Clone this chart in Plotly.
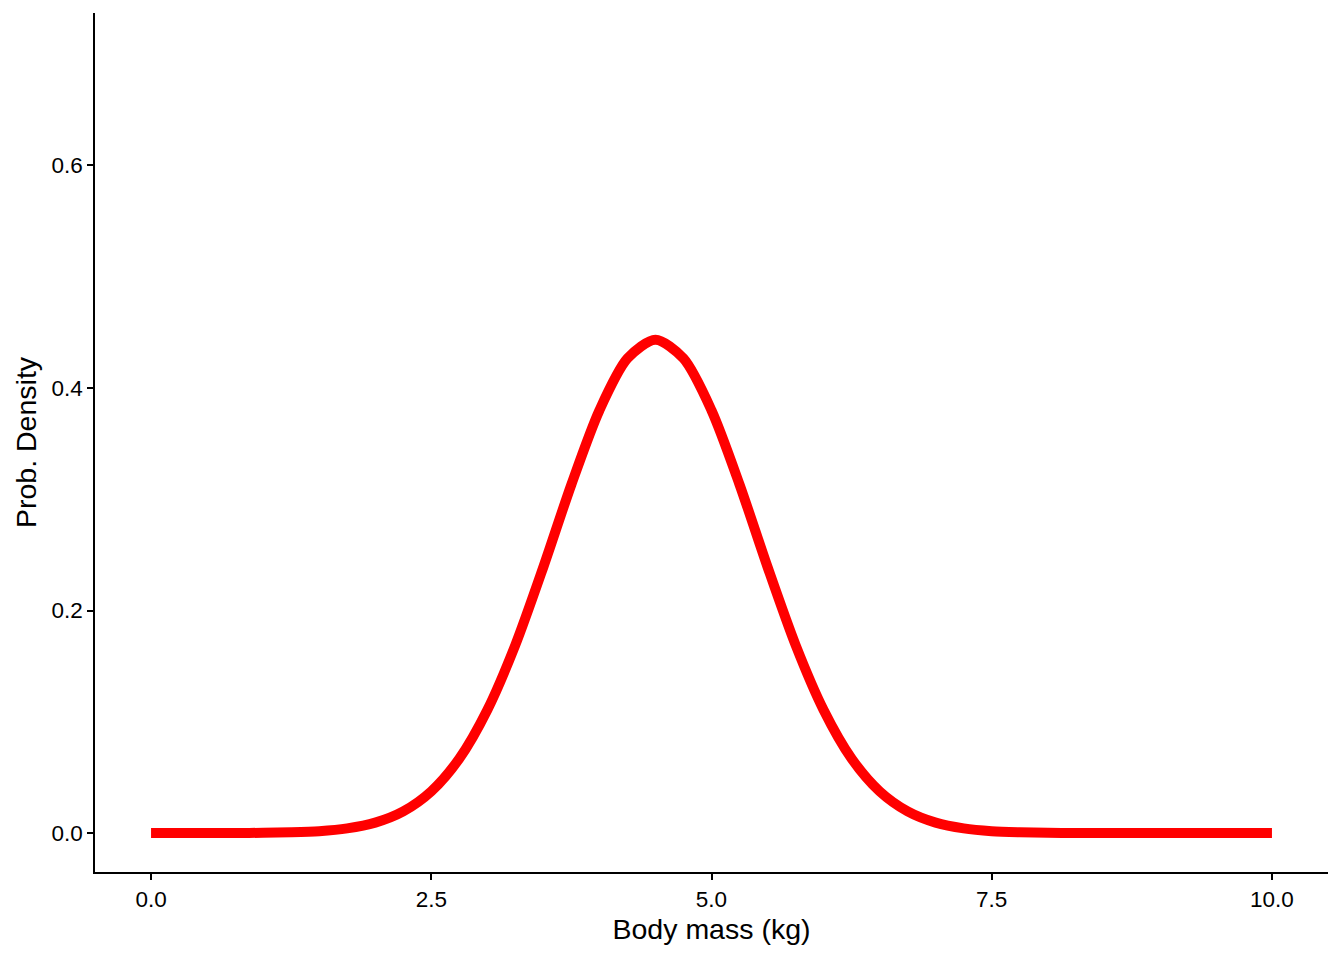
import plotly.graph_objects as go

# Density curve (body mass in kg vs probability density)
body_mass = [0.0, 0.25, 0.5, 0.75, 1.0, 1.25, 1.5, 1.75, 2.0, 2.25,
             2.5, 2.75, 3.0, 3.25, 3.5, 3.75, 4.0, 4.25, 4.5, 4.75,
             5.0, 5.25, 5.5, 5.75, 6.0, 6.25, 6.5, 6.75, 7.0, 7.25,
             7.5, 7.75, 8.0, 8.25, 8.5, 8.75, 9.0, 9.25, 9.5, 9.75, 10.0]
density = [0.0, 0.0, 0.0, 0.0001, 0.0002, 0.0007, 0.0017, 0.0042, 0.0094, 0.0195,
           0.0375, 0.0669, 0.1106, 0.1690, 0.2391, 0.3133, 0.3799, 0.4265, 0.4433, 0.4265,
           0.3799, 0.3133, 0.2391, 0.1690, 0.1106, 0.0669, 0.0375, 0.0195, 0.0094, 0.0042,
           0.0017, 0.0007, 0.0002, 0.0001, 0.0, 0.0, 0.0, 0.0, 0.0, 0.0, 0.0]

x_ticks = [0.0, 2.5, 5.0, 7.5, 10.0]
x_ticklabels = ["0.0", "2.5", "5.0", "7.5", "10.0"]
y_ticks = [0.0, 0.2, 0.4, 0.6]
y_ticklabels = ["0.0", "0.2", "0.4", "0.6"]

fig = go.Figure()
fig.add_trace(go.Scatter(
    x=body_mass, y=density,
    mode="lines",
    line=dict(color="#FF0000", width=10, shape="spline", smoothing=0.8),
    hoverinfo="skip"
))

axis_common = dict(
    showgrid=False, zeroline=False,
    showline=True, linecolor="black", linewidth=1.5,
    ticks="outside", ticklen=6, tickwidth=1.5, tickcolor="black",
    tickfont=dict(family="Liberation Sans, Arial", size=22.5, color="black"),
)

# page body has an 8px margin, so the figure is shrunk by that amount
fig.update_layout(
    width=1336, height=952,
    showlegend=False,
    plot_bgcolor="white", paper_bgcolor="white",
    margin=dict(l=87, r=16, t=5, b=88),
    font=dict(family="Liberation Sans, Arial", color="black"),
    xaxis=dict(
        range=[-0.5, 10.5],
        tickvals=x_ticks, ticktext=x_ticklabels,
        title=dict(text="Body mass (kg)", font=dict(size=28.5), standoff=8),
        **axis_common
    ),
    yaxis=dict(
        range=[-0.035, 0.737],
        tickvals=y_ticks, ticktext=y_ticklabels,
        title=dict(text="Prob. Density", font=dict(size=28.5), standoff=6),
        **axis_common
    ),
)

fig.write_html("out.html")
